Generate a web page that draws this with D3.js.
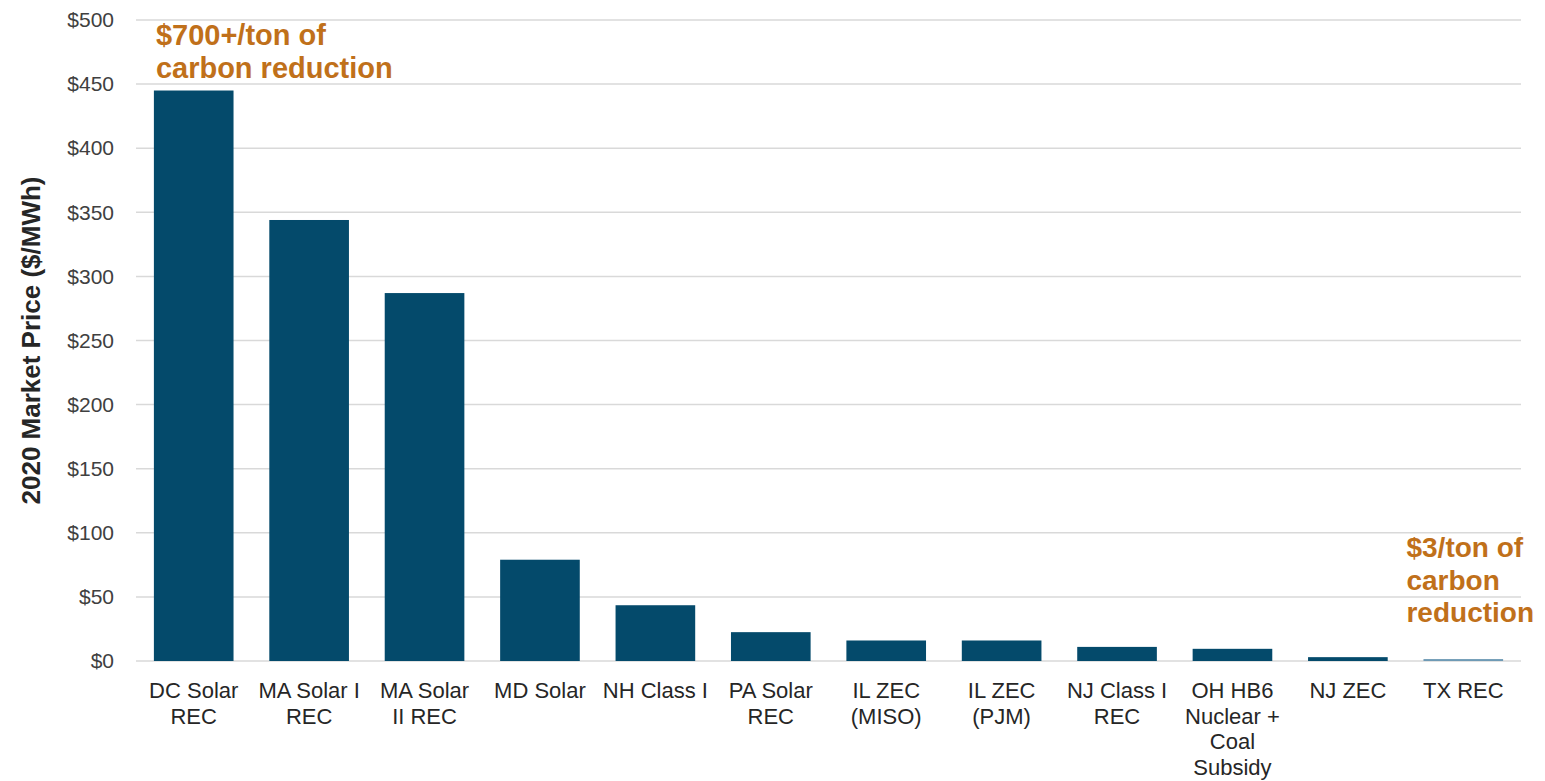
<!DOCTYPE html>
<html><head><meta charset="utf-8">
<script src="https://cdn.jsdelivr.net/npm/d3@7"></script>
<style>body{margin:0;background:#fff;}svg{display:block;font-family:"Liberation Sans",Arial,sans-serif;}</style>
</head><body>
<script>
const categories = [
  ["DC Solar","REC"],["MA Solar I","REC"],["MA Solar","II REC"],["MD Solar"],["NH Class I"],
  ["PA Solar","REC"],["IL ZEC","(MISO)"],["IL ZEC","(PJM)"],["NJ Class I","REC"],
  ["OH HB6","Nuclear +","Coal","Subsidy"],["NJ ZEC"],["TX REC"]
];
const values = [445, 344, 287, 79, 43.5, 22.5, 16, 16, 11, 9.5, 3, 1.5];
const yTicks = [0,50,100,150,200,250,300,350,400,450,500];
const annotations = [
  {lines:["$700+/ton of","carbon reduction"], idx:0},
  {lines:["$3/ton of","carbon","reduction"], idx:11}
];

const W = 1545, H = 781;
const m = {left:136, right:24, top:20, bottom:120};
const svg = d3.select("body").append("svg").attr("width",W).attr("height",H);
const keys = categories.map((c,i)=>i);
const x = d3.scaleBand().domain(keys).range([m.left, W-m.right]).paddingInner(0.31).paddingOuter(0.155);
const y = d3.scaleLinear().domain([0,500]).range([H-m.bottom, m.top]);

// gridlines
svg.append("g").selectAll("line").data(yTicks).join("line")
  .attr("x1", m.left).attr("x2", W-m.right)
  .attr("y1", d=>y(d)).attr("y2", d=>y(d))
  .attr("stroke","#d9d9d9").attr("stroke-width",1.5);

// y axis labels
const yAxis = d3.axisLeft(y).tickValues(yTicks).tickSize(0).tickPadding(0).tickFormat(d=>"$"+d);
const ya = svg.append("g").attr("transform",`translate(${m.left-22},0)`).call(yAxis);
ya.select(".domain").remove();
ya.selectAll("text").attr("font-size",21).attr("fill","#404040").attr("font-family","Liberation Sans, Arial, sans-serif");

// y title
svg.append("text").attr("transform",`translate(40,${y(250)}) rotate(-90)`)
  .attr("text-anchor","middle").attr("font-size",26).attr("font-weight","bold").attr("fill","#262626")
  .text("2020 Market Price ($/MWh)");

// bars
svg.append("g").selectAll("rect").data(values).join("rect")
  .attr("x",(d,i)=>x(i)).attr("width",x.bandwidth())
  .attr("y",d=>y(d)).attr("height",d=>y(0)-y(d))
  .attr("fill",(d,i)=> i===11 ? "#6e9ab5" : "#044a6b");

// x labels
const xl = svg.append("g");
categories.forEach((lines,i)=>{
  const cx = x(i)+x.bandwidth()/2;
  const t = xl.append("text").attr("x", cx).attr("y", y(0)+37)
    .attr("text-anchor","middle").attr("font-size",22).attr("fill","#262626");
  lines.forEach((l,j)=>t.append("tspan").attr("x", cx).attr("dy", j===0?0:25.5).text(l));
});

// annotations
const a0 = annotations[0];
const t0 = svg.append("text").attr("x", x(a0.idx)+2).attr("y", 45)
  .attr("font-size",29).attr("font-weight","bold").attr("fill","#c0701a");
a0.lines.forEach((l,j)=>t0.append("tspan").attr("x", x(a0.idx)+2).attr("dy", j===0?0:33).text(l));
const a1 = annotations[1];
const t1 = svg.append("text").attr("x", x(a1.idx)-17).attr("y", 557)
  .attr("font-size",28).attr("font-weight","bold").attr("fill","#c0701a");
a1.lines.forEach((l,j)=>t1.append("tspan").attr("x", x(a1.idx)-17).attr("dy", j===0?0:32.5).text(l));
</script>
</body></html>
